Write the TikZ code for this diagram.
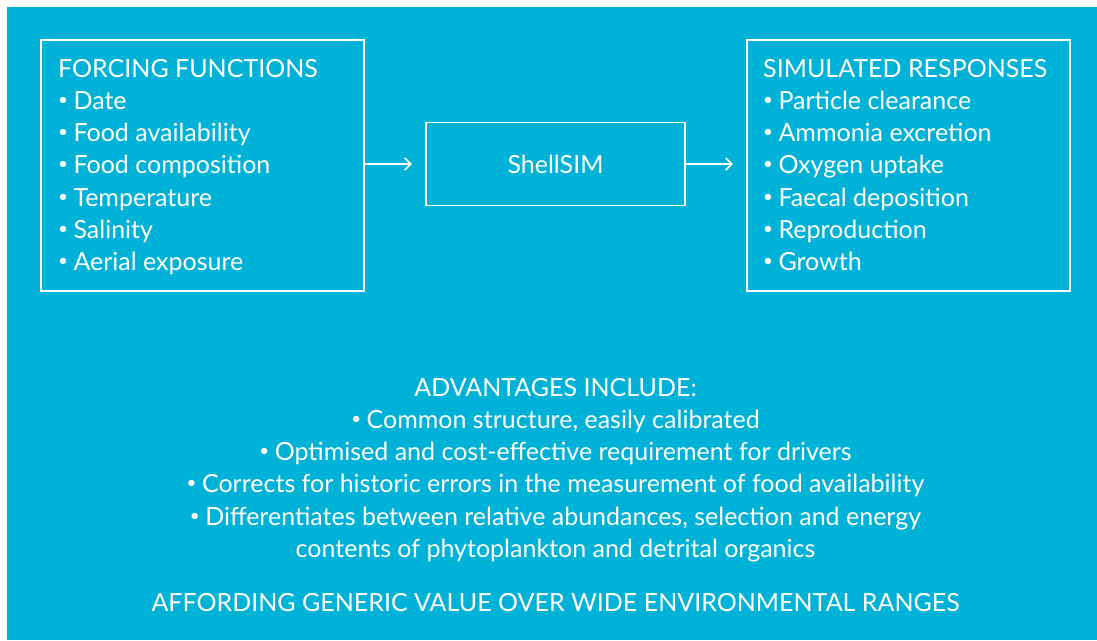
\documentclass[tikz,border=0pt]{standalone}
\usepackage{fontspec}
\setmainfont{Lato}
\usepackage{tikz}
\usetikzlibrary{positioning, arrows.meta}
\definecolor{shellblue}{HTML}{00B2D7}
\newcommand{\dotitem}{\raisebox{0.16em}{\fontsize{17}{17}\selectfont\textbullet}\hspace{0.22em}}

\begin{document}
\begin{tikzpicture}[x=1pt,y=-1pt,
		box/.style={draw=white, line width=1.6pt, minimum width=323pt, minimum height=251pt},
		listtext/.style={text=white, align=left, inner sep=0pt, anchor=north west, font=\fontsize{25}{32.2}\selectfont},
		arr/.style={draw=white, line width=1.5pt, ->, >={Straight Barb[length=6pt,width=12pt]}}]
		\useasboundingbox (0,0) rectangle (1097,640);
		\fill[white] (0,0) rectangle (1097,640);
		\fill[shellblue] (7,7) rectangle (1097,640);
		\node[box] (forcing) at (202.5,165.5) {};
		\node[box] (responses) at (908.5,165.5) {};
		\node[box, minimum width=259pt, minimum height=83pt, text=white, font=\fontsize{25}{28}\selectfont] (shellsim) at (555.5,164) {ShellSIM};
		\node[listtext] (forcinglist) at (58,59) {FORCING FUNCTIONS\\
			\dotitem Date\\
			\dotitem Food availability\\
			\dotitem Food composition\\
			\dotitem Temperature\\
			\dotitem Salinity\\
			\dotitem Aerial exposure};
		\node[listtext] (responselist) at (763,59) {SIMULATED RESPONSES\\
			\dotitem Particle clearance\\
			\dotitem Ammonia excretion\\
			\dotitem Oxygen uptake\\
			\dotitem Faecal deposition\\
			\dotitem Reproduction\\
			\dotitem Growth};
		\draw[arr] (forcing.east |- shellsim.west) -- ++(47,0);
		\draw[arr] (shellsim.east) -- ++(47,0);
		\node[listtext, align=center, anchor=north] (advantages) at (555.5,378) {ADVANTAGES INCLUDE:\\
			\dotitem Common structure, easily calibrated\\
			\dotitem Optimised and cost-effective requirement for drivers\\
			\dotitem Corrects for historic errors in the measurement of food availability\\
			\dotitem Differentiates between relative abundances, selection and energy\\
			contents of phytoplankton and detrital organics};
		\node[listtext, anchor=north] (affording) at (555.5,593) {AFFORDING GENERIC VALUE OVER WIDE ENVIRONMENTAL RANGES};
	\end{tikzpicture}
\end{document}
